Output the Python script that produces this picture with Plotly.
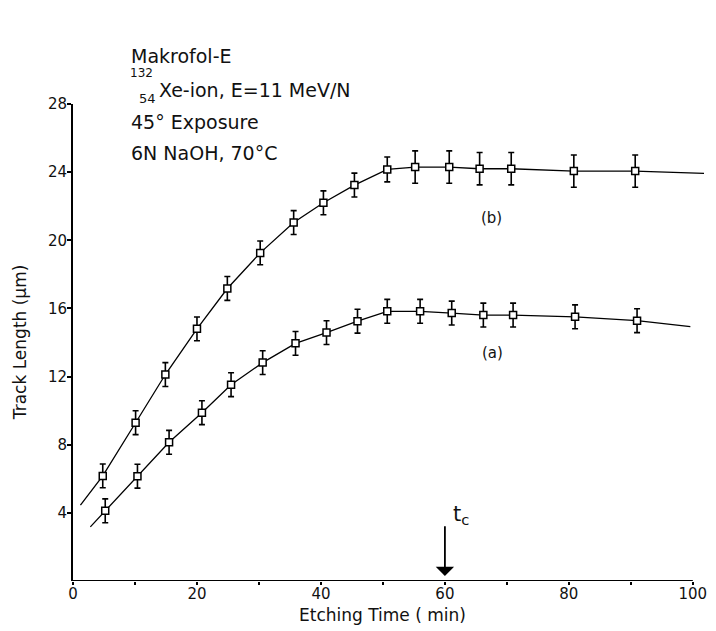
import plotly.graph_objects as go

# curve (b)
b_time = [4.8, 10.1, 14.9, 20.0, 24.9, 30.2, 35.6, 40.4, 45.4, 50.7, 55.2, 60.7, 65.6, 70.7, 80.8, 90.7]
b_len = [6.17, 9.29, 12.12, 14.8, 17.17, 19.26, 21.04, 22.2, 23.24, 24.16, 24.3, 24.3, 24.2, 24.2, 24.06, 24.06]
b_err = [0.7, 0.7, 0.7, 0.7, 0.7, 0.7, 0.7, 0.7, 0.7, 0.73, 0.95, 0.95, 0.95, 0.95, 0.95, 0.95]
# fitted line for (b), incl. its ends
b_fit_time = [1.2] + b_time + [101.8]
b_fit_len = [4.45] + b_len + [23.93]

# curve (a)
a_time = [5.2, 10.4, 15.5, 20.8, 25.5, 30.6, 35.9, 40.9, 45.9, 50.7, 56.0, 61.1, 66.2, 71.0, 81.0, 91.0]
a_len = [4.12, 6.15, 8.14, 9.88, 11.52, 12.82, 13.95, 14.58, 15.25, 15.83, 15.83, 15.73, 15.61, 15.61, 15.51, 15.28]
a_err = [0.7] * 16
a_fit_time = [2.8] + a_time + [99.6]
a_fit_len = [3.18] + a_len + [14.93]

x_ticks = [0, 10, 20, 30, 40, 50, 60, 70, 80, 90, 100]
x_labels = ["0", "", "20", "", "40", "", "60", "", "80", "", "100"]
y_ticks = [4, 8, 12, 16, 20, 24, 28]
t_c = 60

FONT = "DejaVu Sans"
INK = "#111"
X_MAX = 101.8
Y_MAX = 28

fig = go.Figure()

for t, v in [(b_fit_time, b_fit_len), (a_fit_time, a_fit_len)]:
  fig.add_trace(go.Scatter(x=t, y=v, mode="lines", line=dict(color="black", width=1.3),
                           showlegend=False, hoverinfo="skip"))

for t, v, e in [(b_time, b_len, b_err), (a_time, a_len, a_err)]:
  fig.add_trace(go.Scatter(
    x=t, y=v, mode="markers",
    error_y=dict(type="data", array=e, visible=True, color="black", thickness=1.6, width=3),
    marker=dict(symbol="square", size=7, color="white", line=dict(color="black", width=1.5)),
    showlegend=False, cliponaxis=False))

# x axis line drawn only up to 100
fig.add_shape(type="line", x0=0, x1=100, y0=0, y1=0, xref="x", yref="y",
              line=dict(color="black", width=2))

def note(text, x, y, size=19, anchor="left", angle=0):
  # x, y given in axis units, placed on paper so text outside the range still shows
  fig.add_annotation(text=text, x=x / X_MAX, y=y / Y_MAX, xref="paper", yref="paper",
                     showarrow=False, xanchor=anchor, yanchor="middle", textangle=angle,
                     font=dict(family=FONT, size=size, color=INK))

note("Makrofol-E", 9.1, 30.8)
note("132", 8.9, 29.8, size=12)
note("54", 10.3, 28.35, size=13)
note("Xe-ion, E=11 MeV/N", 13.5, 28.85)
note("45° Exposure", 9.1, 26.96)
note("6N NaOH, 70°C", 9.1, 25.12)
note("(b)", 67.5, 21.3, size=15, anchor="center")
note("(a)", 67.6, 13.4, size=15, anchor="center")
note("t<sub>c</sub>", 61.0, 3.9, size=21)
note("Etching Time ( min)", 50.0, -2.0, size=17, anchor="center")
note("Track Length (µm)", -8.6, 14.0, size=17, anchor="center", angle=-90)

fig.add_annotation(x=t_c, y=0.3, ax=t_c, ay=3.3, xref="x", yref="y", axref="x", ayref="y",
                   text="", showarrow=True, arrowhead=1, arrowsize=1.7, arrowwidth=1.8,
                   arrowcolor="black", standoff=0)

fig.update_xaxes(range=[0, X_MAX], tickvals=x_ticks, ticktext=x_labels, ticks="outside",
                 ticklen=3, tickwidth=1.5, tickcolor="black", showline=False, showgrid=False,
                 zeroline=False, automargin=False, ticklabelstandoff=-4,
                 tickfont=dict(family=FONT, size=15, color=INK))
fig.update_yaxes(range=[0, Y_MAX], tickvals=y_ticks, ticks="outside", ticklen=4, tickwidth=1.5,
                 tickcolor="black", showline=True, linecolor="black", linewidth=2,
                 showgrid=False, zeroline=False, automargin=False, ticklabelstandoff=-3,
                 tickfont=dict(family=FONT, size=15, color=INK))
# page body has an 8px margin, so the figure is shifted and a bit smaller than the window
fig.update_layout(width=708, height=623, margin=dict(l=65, r=12, t=96, b=50),
                  plot_bgcolor="white", paper_bgcolor="white")

fig.write_html("out.html")
